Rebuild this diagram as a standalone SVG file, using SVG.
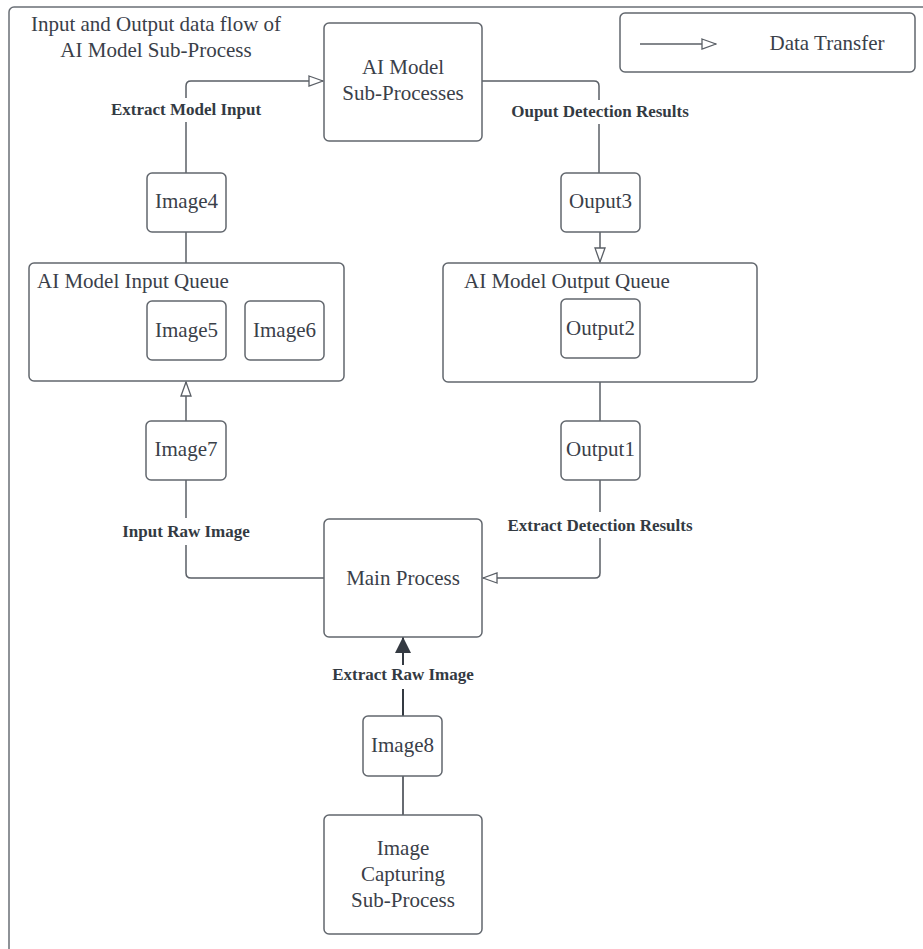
<svg xmlns="http://www.w3.org/2000/svg" width="923" height="949" viewBox="0 0 923 949">
<defs>
<style>
.box{fill:#ffffff;stroke:#62676e;stroke-width:1.5}
.t{font-family:"Liberation Serif",serif;font-size:21px;fill:#3a4049;text-anchor:middle}
.tl{font-family:"Liberation Serif",serif;font-size:21px;fill:#3a4049}
.lbl{font-family:"Liberation Serif",serif;font-size:17px;font-weight:bold;fill:#333a42;text-anchor:middle}
.ln{fill:none;stroke:#5a5f66;stroke-width:1.5}
.dk{fill:none;stroke:#343a42;stroke-width:2}
</style>
<marker id="open" viewBox="0 0 16 12" refX="15" refY="6" markerWidth="16" markerHeight="12" markerUnits="userSpaceOnUse" orient="auto">
<path d="M1,1 L15,6 L1,11 Z" fill="#ffffff" stroke="#5a5f66" stroke-width="1.3"/>
</marker>
<marker id="solid" viewBox="0 0 16 18" refX="16" refY="9" markerWidth="16" markerHeight="18" markerUnits="userSpaceOnUse" orient="auto">
<path d="M0,1 L16,9 L0,17 Z" fill="#343a42"/>
</marker>
</defs>
<rect x="0" y="0" width="923" height="949" fill="#ffffff"/>
<g id="frame">
<rect x="9" y="7" width="930" height="960" rx="5" fill="none" stroke="#6a6f76" stroke-width="1.5"/>
<text class="t" x="156" y="31">Input and Output data flow of</text>
<text class="t" x="156" y="57">AI Model Sub-Process</text>
</g>
<g id="legend">
<rect class="box" x="620" y="13" width="295" height="59" rx="5"/>
<line x1="640" y1="44" x2="716" y2="44" class="ln" marker-end="url(#open)"/>
<text class="t" x="827" y="50">Data Transfer</text>
</g>
<g id="connectors">
<path class="ln" d="M186,173 V122"/>
<path class="ln" d="M186,98 V86 Q186,81 191,81 H323" marker-end="url(#open)"/>
<path class="ln" d="M186,232 V263"/>
<path class="ln" d="M186,421 V382" marker-end="url(#open)"/>
<path class="ln" d="M186,480 V518"/>
<path class="ln" d="M186,545 V573 Q186,578 191,578 H324"/>
<path class="ln" d="M482,81 H594 Q599,81 599,86 V100"/>
<path class="ln" d="M599,124 V173"/>
<path class="ln" d="M600,232 V262" marker-end="url(#open)"/>
<path class="ln" d="M600,382 V421"/>
<path class="ln" d="M600,480 V512"/>
<path class="ln" d="M600,538 V573 Q600,578 595,578 H483" marker-end="url(#open)"/>
<path class="dk" d="M403,665 V637" marker-end="url(#solid)"/>
<path class="dk" d="M403,689 V716"/>
<path class="ln" d="M403,776 V815" style="stroke:#343a42"/>
<text class="lbl" x="186" y="115">Extract Model Input</text>
<text class="lbl" x="600" y="117">Ouput Detection Results</text>
<text class="lbl" x="186" y="537">Input Raw Image</text>
<text class="lbl" x="600" y="531">Extract Detection Results</text>
<text class="lbl" x="403" y="680">Extract Raw Image</text>
</g>
<g id="ai-model">
<rect class="box" x="324" y="23" width="158" height="118" rx="5"/>
<text class="t" x="403" y="74">AI Model</text>
<text class="t" x="403" y="100">Sub-Processes</text>
</g>
<g id="image4">
<rect class="box" x="147" y="173" width="79" height="59" rx="5"/>
<text class="t" x="186.5" y="208">Image4</text>
</g>
<g id="ouput3">
<rect class="box" x="561" y="173" width="79" height="59" rx="5"/>
<text class="t" x="600.5" y="208">Ouput3</text>
</g>
<g id="input-queue">
<rect class="box" x="29" y="263" width="315" height="118" rx="5"/>
<text class="tl" x="37" y="288">AI Model Input Queue</text>
</g>
<g id="image5">
<rect class="box" x="147" y="301" width="79" height="59" rx="5"/>
<text class="t" x="186.5" y="337">Image5</text>
</g>
<g id="image6">
<rect class="box" x="245" y="301" width="79" height="59" rx="5"/>
<text class="t" x="284.5" y="337">Image6</text>
</g>
<g id="output-queue">
<rect class="box" x="443" y="263" width="314" height="119" rx="5"/>
<text class="tl" x="464" y="288">AI Model Output Queue</text>
</g>
<g id="output2">
<rect class="box" x="561" y="299" width="79" height="59" rx="5"/>
<text class="t" x="600.5" y="335">Output2</text>
</g>
<g id="image7">
<rect class="box" x="146" y="421" width="80" height="59" rx="5"/>
<text class="t" x="186" y="456">Image7</text>
</g>
<g id="output1">
<rect class="box" x="561" y="421" width="79" height="59" rx="5"/>
<text class="t" x="600.5" y="456">Output1</text>
</g>
<g id="main-process">
<rect class="box" x="324" y="519" width="158" height="118" rx="5"/>
<text class="t" x="403" y="585">Main Process</text>
</g>
<g id="image8">
<rect class="box" x="363" y="716" width="79" height="60" rx="5"/>
<text class="t" x="402.5" y="752">Image8</text>
</g>
<g id="image-capturing">
<rect class="box" x="324" y="815" width="158" height="119" rx="5"/>
<text class="t" x="403" y="855">Image</text>
<text class="t" x="403" y="881">Capturing</text>
<text class="t" x="403" y="907">Sub-Process</text>
</g>
</svg>
